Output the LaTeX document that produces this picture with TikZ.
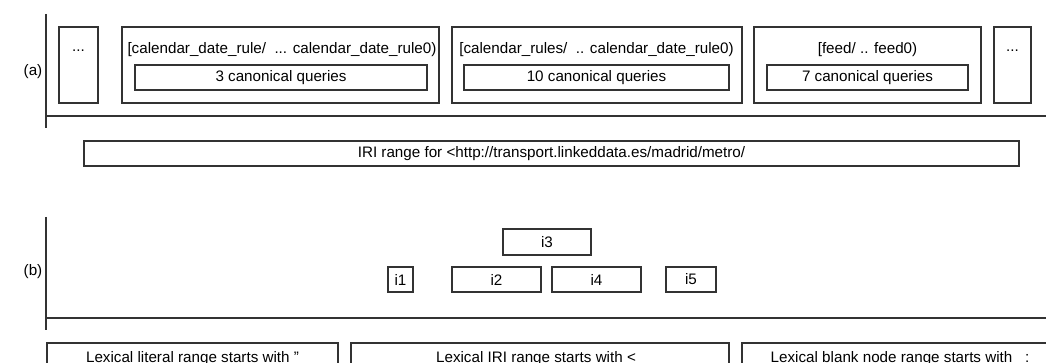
\documentclass[tikz,border=0pt]{standalone}
\usepackage{fontspec}
\setmainfont{Liberation Sans}
\tikzset{
  box/.style={draw=black!80, fill=white},
  wh/.style 2 args={minimum width=#1*0.75pt, minimum height=#2*0.75pt},
  axis/.style={draw=black!80, line width=0.8pt}}
\begin{document}
\begin{tikzpicture}[x=0.75pt,y=-0.75pt,
  line width=0.8pt,
  every node/.style={font=\fontsize{11.4}{13}\selectfont, text=black, inner sep=0pt, outer sep=0pt}]
\useasboundingbox (0,0) rectangle (1046,363);
\clip (0,0) rectangle (1046,363);

% axes
\coordinate (a0) at (46,14);
\coordinate (a1) at (46,128);
\coordinate (ah0) at (46,116);
\coordinate (ah1) at (1046,116);
\coordinate (b0) at (46,217);
\coordinate (b1) at (46,330);
\coordinate (bh0) at (46,318);
\coordinate (bh1) at (1046,318);
\draw[axis] (a0) -- (a1);
\draw[axis] (ah0) -- (ah1);
\draw[axis] (b0) -- (b1);
\draw[axis] (bh0) -- (bh1);

\node (la) at (33,72) {(a)};
\node (lb) at (33,272) {(b)};

% (a) boxes
\node[box, wh={39}{76}] (p1) at (78.5,65) {};
\node (p1t) at (78.5,51) {...};
\node[box, wh={317}{76}] (p2) at (280.5,65) {};
\node (p2t) at (282,50) {[calendar\_date\_rule/\ \ ... calendar\_date\_rule0)};
\node[box, wh={292}{25}] (q2) at (281,77.5) {3 canonical queries};
\node[box, wh={290}{76}] (p3) at (597,65) {};
\node (p3t) at (596.5,50) {[calendar\_rules/\ \ .. calendar\_date\_rule0)};
\node[box, wh={265}{25}] (q3) at (596.5,77.5) {10 canonical queries};
\node[box, wh={227}{76}] (p4) at (867.5,65) {};
\node (p4t) at (867.5,50) {[feed/ .. feed0)};
\node[box, wh={201}{25}] (q4) at (867.5,77.5) {7 canonical queries};
\node[box, wh={37}{76}] (p5) at (1012.5,65) {};
\node (p5t) at (1012.5,51) {...};

\node[box, wh={935}{25}] (iri) at (551.5,153.5) {IRI range for <http://transport.linkeddata.es/madrid/metro/};

% (b) boxes
\node[box, wh={88}{26}] (i3) at (547,242) {i3};
\node[box, wh={25}{25}] (i1) at (400.5,279.5) {i1};
\node[box, wh={89}{25}] (i2) at (496.5,279.5) {i2};
\node[box, wh={89}{25}] (i4) at (596.5,279.5) {i4};
\node[box, wh={50}{25}] (i5) at (691,279.5) {i5};

% bottom boxes
\node[box, wh={291}{34}] (r1) at (192.5,360) {};
\node[box, wh={378}{34}] (r2) at (540,360) {};
\node[box, wh={316}{34}] (r3) at (900,360) {};
\node[anchor=base] (r1t) at (192.5,362.5) {Lexical literal range starts with \symbol{34}};
\node[anchor=base] (r2t) at (536,362.5) {Lexical IRI range starts with <};
\node[anchor=base] (r3t) at (900,362.5) {Lexical blank node range starts with \_:};
\end{tikzpicture}
\end{document}
